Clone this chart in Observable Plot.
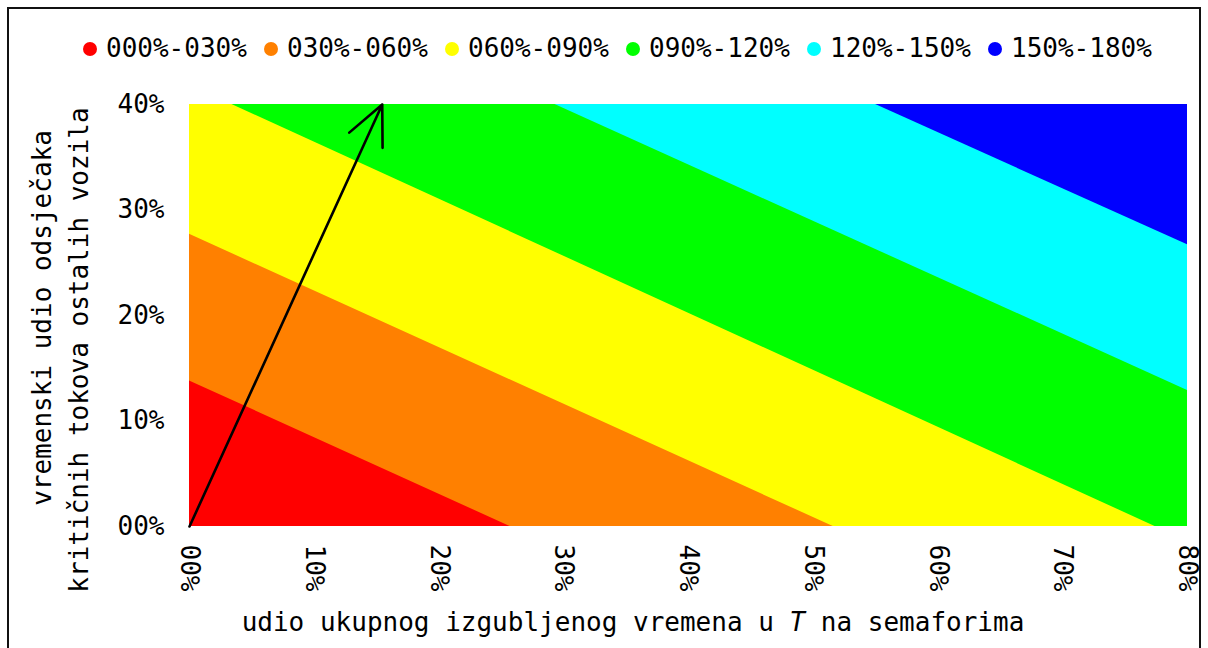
<!DOCTYPE html>
<html>
<head>
<meta charset="utf-8">
<script src="https://cdn.jsdelivr.net/npm/d3@7"></script>
<script src="https://cdn.jsdelivr.net/npm/@observablehq/plot@0.6"></script>
<style>
  html, body { margin: 0; padding: 0; background: #fff; }
  #root { position: relative; width: 1208px; height: 648px; overflow: hidden; background: #fff;
          font-family: "DejaVu Sans Mono", monospace; }
  #frame { position: absolute; left: 7px; top: 7px; width: 1194px; height: 700px;
           border: 2px solid #111; box-sizing: border-box; pointer-events: none; }
  #legend { position: absolute; left: 0; top: 0; }
  #chart { position: absolute; left: 0; top: 80px; }
</style>
</head>
<body>
<div id="root">
  <div id="frame"></div>
  <div id="legend"></div>
  <div id="chart"></div>
</div>
<script>
// ---- data (percent units) ----
const bandLabels = ["000%-030%", "030%-060%", "060%-090%", "090%-120%", "120%-150%", "150%-180%"];
const bandColors = ["#ff0000", "#ff8000", "#ffff00", "#00ff00", "#00ffff", "#0000ff"];

const xTicks = [0, 10, 20, 30, 40, 50, 60, 70, 80];
const xTickLabels = ["00%", "10%", "20%", "30%", "40%", "50%", "60%", "70%", "80%"];
const yTicks = [0, 10, 20, 30, 40];
const yTickLabels = ["00%", "10%", "20%", "30%", "40%"];

// upper edge of each band region (x = lost time share %, y = critical flow share %)
const edge180X = [0, 80];            const edge180Y = [40, 40];
const edge150X = [0, 55.0, 80];      const edge150Y = [40, 40, 26.7];
const edge120X = [0, 29.3, 80];      const edge120Y = [40, 40, 12.9];
const edge090X = [0, 3.4, 77.4, 80]; const edge090Y = [40, 40, 0, 0];
const edge060X = [0, 51.6, 80];      const edge060Y = [27.7, 0, 0];
const edge030X = [0, 25.7, 80];      const edge030Y = [13.8, 0, 0];

const arrowStart = [0, 0];
const arrowEnd = [15.45, 40];

const xTitleParts = ["udio ukupnog izgubljenog vremena u ", "T", " na semaforima"];
const yTitleLines = ["vremenski udio odsječaka", "kritičnih tokova ostalih vozila"];

// ---- legend ----
const legend = d3.select("#legend").append("svg").attr("width", 1208).attr("height", 80);
bandLabels.forEach((lab, i) => {
  const g = legend.append("g").attr("transform", `translate(${83 + i * 181},0)`);
  g.append("circle").attr("cx", 7).attr("cy", 49).attr("r", 7).attr("fill", bandColors[i]);
  g.append("text").attr("x", 23).attr("y", 57).attr("font-size", 26)
    .attr("font-family", "DejaVu Sans Mono").attr("fill", "#000").text(lab);
});

// ---- chart ----
const edges = [
  [edge180X, edge180Y, bandColors[5]],
  [edge150X, edge150Y, bandColors[4]],
  [edge120X, edge120Y, bandColors[3]],
  [edge090X, edge090Y, bandColors[2]],
  [edge060X, edge060Y, bandColors[1]],
  [edge030X, edge030Y, bandColors[0]]
];
const areaMarks = edges.map(([xs, ys, c]) =>
  Plot.areaY(xs.map((x, i) => ({x, y: ys[i]})), {x: "x", y1: 0, y2: "y", fill: c, curve: "linear"})
);

const chart = Plot.plot({
  width: 1208,
  height: 568,
  marginTop: 24,
  marginBottom: 122,
  marginLeft: 189,
  marginRight: 21,
  x: {domain: [0, 80]},
  y: {domain: [0, 40]},
  style: {fontFamily: "DejaVu Sans Mono", fontSize: "26px", background: "transparent", color: "#000"},
  marks: [
    ...areaMarks,
    Plot.arrow([{x1: arrowStart[0], y1: arrowStart[1], x2: arrowEnd[0], y2: arrowEnd[1]}], {
      x1: "x1", y1: "y1", x2: "x2", y2: "y2",
      stroke: "#000", strokeWidth: 2.6, headLength: 25, headAngle: 50
    }),
    Plot.axisX({
      ticks: xTicks, tickFormat: d => xTickLabels[xTicks.indexOf(d)],
      tickSize: 0, tickPadding: 18, tickRotate: 90, label: null
    }),
    Plot.axisY({
      ticks: yTicks, tickFormat: d => yTickLabels[yTicks.indexOf(d)],
      tickSize: 0, tickPadding: 25, label: null
    })
  ]
});
document.getElementById("chart").appendChild(chart);

const svg = d3.select(chart);
const xt = svg.append("text").attr("x", 633).attr("y", 551).attr("text-anchor", "middle")
  .attr("font-size", 26).attr("font-family", "DejaVu Sans Mono").attr("fill", "#000");
xTitleParts.forEach((p, i) => {
  xt.append("tspan").attr("font-style", i === 1 ? "italic" : "normal").text(p);
});
const yCenters = [[43, 238], [80, 270]];
yTitleLines.forEach((line, i) => {
  svg.append("text")
    .attr("transform", `translate(${yCenters[i][0]},${yCenters[i][1]}) rotate(-90)`)
    .attr("text-anchor", "middle").attr("dy", "0.32em")
    .attr("font-size", 26).attr("font-family", "DejaVu Sans Mono").attr("fill", "#000")
    .text(line);
});
</script>
</body>
</html>
